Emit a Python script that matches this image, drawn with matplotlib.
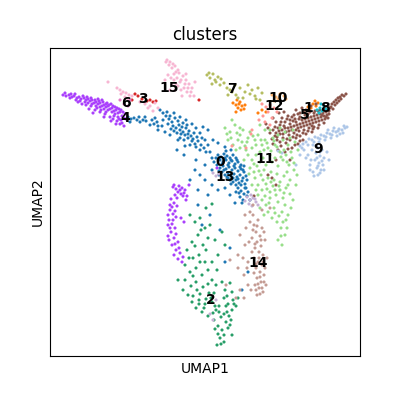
import matplotlib
matplotlib.use("Agg")
import matplotlib.pyplot as plt
import numpy as np

# scanpy-style default palette for 16 clusters
PALETTE = ['#1f77b4', '#ff7f0e', '#279e68', '#d62728', '#aa40fc', '#8c564b',
           '#e377c2', '#b5bd61', '#17becf', '#aec7e8', '#ffbb78', '#98df8a',
           '#ff9896', '#c5b0d5', '#c49c94', '#f7b6d2']

# embedding coordinates (y grows downward)
c0 = [(128,117),(131,119),(134,118),(137,120),(140,122),(143,120),(146,121),(130,122),(150,125),(154,124),(158,126),
      (160,110),(163,113),(166,116),(169,119),(172,122),(175,118),(178,121),(173,126),(176,128),(179,125),(182,127),
      (168,124),(171,129),(174,131),(177,133),(180,130),(183,132),(186,128),(189,131),(185,135),(188,138),(191,136),
      (194,133),(197,137),(192,141),(195,144),(198,141),(201,145),(204,148),(200,150),(190,145),(184,140),(180,138),
      (162,126),(158,130),(165,132),(155,118),(186,120),(192,124),(196,128),(200,133),(205,140),(208,145),(210,152),
      (212,158),(218,155),(221,157),(224,154),(227,156),(230,158),(233,155),(236,158),(220,160),(223,162),(226,160),
      (229,163),(232,161),(235,164),(238,162),(241,165),(217,165),(220,168),(223,166),(226,169),(229,167),(232,170),
      (235,168),(238,171),(241,169),(244,172),(222,172),(225,175),(228,173),(231,176),(234,174),(237,177),(240,175),
      (243,178),(230,180),(233,182),(236,180),(239,183),(242,181),(245,184),(228,178),(219,175),(246,176),(226,151),
      (231,150),(214,162),(212,170),(238,188),(241,191),(244,194),(240,197),(243,200),(247,196),(236,192),(245,188),
      (248,192),(250,200),(235,203),(230,195),(225,188),(218,190),(212,185),(205,180),(200,175),(195,170),(190,180),
      (208,195),(198,190),(177,150),(184,155),(205,165),(196,160),(213,140),(218,143),(225,147),(198,205),(210,215),
      (202,225),(220,230),(230,248),(248,272),(242,290),(225,262),(203,127),(208,130),
      (219,158),(222,164),(225,158),(228,165),(231,160),(234,166),(237,160),(240,167),(243,170),(219,171),(224,170),
      (227,177),(233,178),(238,179),(241,185),(236,185),(231,184),(247,180),(244,166),(216,158),(246,188),(239,193),
      (242,203),(167,112),(170,116),(174,113),(180,117),(183,123),(187,125),(181,134),(188,134),(193,139),(196,147),
      (202,138),(206,152),(170,135),(178,140),(185,146),(163,120),(152,120),(145,117),(139,117),(157,122)]
c1 = [(233,103),(236,105),(239,104),(242,106),(245,105),(238,108),(241,110),(236,112),(262,110),(266,112),(258,113),
      (313,104),(316,106),(311,108),(318,103),(315,101),(308,107),(240,102),(244,109),(237,100)]
c2 = [(190,215),(195,222),(200,218),(205,228),(198,235),(192,242),(203,245),(208,238),(187,250),(193,258),(199,255),
      (205,262),(185,265),(190,272),(196,268),(202,275),(208,270),(212,280),(185,280),(191,286),(197,290),(203,287),
      (209,293),(193,296),(199,300),(205,304),(211,298),(215,306),(196,308),(202,312),(208,316),(214,320),(218,326),
      (222,330),(220,338),(224,342),(218,334),(226,322),(229,316),(232,310),(228,304),(224,298),(233,300),(236,306),
      (230,325),(224,314),(219,312),(213,313),(225,290),(222,282),(216,285),(230,283),(212,262),(218,255),(215,240),
      (210,225),(222,232),(225,245),(188,295),(183,290),(178,280),(232,335),(217,345),(206,208),(212,204),
      (196,282),(200,294),(206,299),(212,302),(216,310),(221,317),(227,312),(231,320),(234,304),(238,298),(226,306),
      (219,306),(204,308),(199,304),(192,302),(228,328),(224,335),(221,344),(215,329),(227,296),(232,292),(208,284),
      (193,276),(200,262),(189,258),(206,250),(195,246),(201,230),(217,270),(214,293)]
c3 = [(135,94),(138,96),(147,101),(150,100),(153,102),(156,101),(142,99),(132,100),(199,100)]
c4 = [(63,95),(66,96),(69,95),(72,97),(74,96),(77,98),(79,97),(81,99),(84,98),(86,100),(88,99),(90,101),(92,100),
      (94,103),(96,102),(98,104),(100,103),(102,106),(104,105),(106,107),(108,106),(110,109),(112,108),(114,111),
      (116,110),(118,113),(120,112),(122,116),(124,118),(121,120),(118,117),(115,114),(112,112),(108,110),(104,109),
      (100,107),(96,106),(92,104),(88,103),(85,102),(80,101),(76,100),(70,98),(98,99),(102,100),(107,103),(111,104),
      (115,107),(119,109),(123,112),(125,114),(95,110),(100,112),(105,114),(110,117),(113,119),(117,121),(122,123),
      (124,126),(93,113),(89,109),(82,104),(126,119),(120,124),
      (65,93),(71,94),(75,94),(83,96),(87,97),(91,98),(95,100),(99,101),(103,102),(106,104),(109,105),(113,106),
      (117,108),(121,110),(101,110),(97,108),(91,106),(86,105),(78,102),(106,112),(114,116),(119,119),(116,124),
      (111,121),(104,117),
      (173,187),(176,189),(179,186),(182,188),(185,190),(178,192),(181,194),(175,195),(184,193),(187,196),(171,199),
      (174,203),(177,206),(170,210),(173,214),(176,217),(169,220),(172,224),(175,228),(171,232),(168,236),(174,238),
      (178,242),(172,245),(176,250),(180,253),(183,257),(174,255),(178,259),(181,218),(184,222),(170,205),(168,225),
      (186,200),(189,185),(217,168),(174,185),(180,190),(183,196),(177,198),(172,207),(175,211),(168,215),(173,220),
      (170,228),(176,234),(169,240),(175,244),(179,248),(182,262)]
c5 = [(270,133),(273,130),(275,136),(278,128),(280,134),(282,130),(284,126),(286,132),(288,128),(290,124),(292,130),
      (294,126),(296,122),(298,128),(300,124),(302,120),(304,126),(306,122),(308,118),(310,124),(312,120),(314,116),
      (316,122),(318,118),(320,114),(322,120),(324,116),(326,112),(328,118),(330,108),(332,104),(334,102),(336,100),
      (338,98),(340,97),(342,95),(328,106),(325,108),(320,110),(315,111),(310,112),(305,115),(300,117),(295,119),
      (290,120),(285,122),(280,125),(275,127),(272,139),(277,140),(283,138),(289,135),(294,133),(299,131),(304,130),
      (309,128),(314,127),(319,125),(324,123),(329,114),(312,132),(306,134),(300,136),(296,138),(290,140),(286,143),
      (281,146),(278,150),(285,152),(292,148),(298,144),(303,140),(290,160),(276,160),(294,115),(300,113),(306,110),
      (311,106),(316,104),(302,108),(296,110),(288,116),(282,118),(276,122),(268,128),(266,124),(273,118),(279,113),
      (284,112),(272,178),(276,185),(268,175),(254,196),
      (291,127),(293,121),(297,125),(299,119),(301,127),(303,123),(305,119),(307,125),(309,121),(311,117),(313,123),
      (315,119),(317,115),(319,121),(321,117),(323,113),(325,119),(327,115),(329,111),(331,107),(333,109),(335,105),
      (337,103),(339,101),(341,99),(344,96),(346,94),(318,128),(313,129),(308,131),(303,133),(297,135),(293,137),
      (287,139),(283,134),(279,131),(276,133),(281,122),(287,119),(292,117),(298,114),(304,112),(308,114),(314,113),
      (318,111),(322,115),(326,117),(312,126),(296,130),(289,131),(285,128),(277,137),(273,144),(280,142),(288,149),
      (295,145),(300,141)]
c6 = [(120,100),(124,104),(130,100),(128,106)]
c7 = [(207,75),(210,78),(213,74),(215,80),(218,77),(220,85),(224,83),(227,88),(232,92),(236,95),(240,88),(245,92),
      (248,85),(252,90),(255,96),(258,88),(262,93),(243,98),(235,85),(228,95),(212,84),
      (209,73),(216,82),(221,79),(230,90),(238,98),(250,94),(256,99),(260,100)]
c8 = [(320,108),(322,111),(324,106),(319,113),(326,109),(321,104),(317,110)]
c9 = [(345,128),(342,130),(339,129),(336,132),(333,131),(330,134),(327,133),(324,136),(321,135),(318,138),(315,137),
      (312,140),(309,139),(306,142),(303,144),(300,146),(337,136),(331,138),(325,140),(319,142),(313,145),(343,133),
      (340,134),(334,128),(328,130),(318,148),(322,150),(316,153),(320,156),(324,158),(315,160),(319,163),(323,165),
      (317,168),(321,170),(313,172),(318,175),(310,165),(306,158),(304,150),(327,152),(329,160),(312,150),(300,155),
      (296,165),(278,151),(282,153),
      (347,127),(344,126),(338,131),(332,135),(326,137),(320,139),(314,142),(308,145),(302,148),(316,146),(320,152),
      (317,158),(322,161),(318,166),(324,170),(320,173),(314,176),(310,170),(308,155),(311,160)]
c10 = [(272,95),(276,97),(280,94),(284,96),(278,99),(286,99),(274,101)]
c11 = [(225,128),(230,132),(235,125),(240,135),(228,140),(233,145),(238,140),(243,130),(248,138),(245,146),(250,132),
       (255,140),(252,148),(258,135),(262,145),(260,152),(265,140),(268,148),(270,130),(273,138),(275,145),(278,135),
       (280,128),(283,140),(285,132),(288,145),(290,138),(293,130),(295,142),(298,150),(248,155),(252,160),(256,155),
       (260,162),(263,158),(266,165),(270,155),(272,162),(275,158),(278,166),(280,152),(283,160),(286,155),(289,165),
       (292,158),(250,168),(254,172),(257,166),(261,175),(264,170),(268,178),(271,172),(274,180),(277,174),(280,182),
       (284,176),(287,172),(290,180),(294,170),(258,185),(262,190),(266,184),(270,192),(273,186),(276,195),(280,190),
       (283,198),(286,188),(290,194),(262,200),(266,205),(270,198),(274,208),(278,202),(282,212),(285,205),(288,215),
       (272,218),(277,222),(281,228),(286,220),(268,212),(264,215),(244,160),(246,150),(240,148),(236,150),(255,178),
       (252,185),(258,195),(293,200),(296,185),(282,245),(278,240),(285,235),(240,128),(232,120),(260,125),(265,130),
       (227,134),(231,138),(237,133),(242,142),(247,142),(253,136),(256,145),(261,140),(264,150),(267,143),(271,151),
       (274,141),(277,147),(281,157),(284,150),(287,162),(291,152),(294,163),(297,175),(288,185),(284,193),(279,186),
       (275,190),(271,182),(267,189),(263,180),(259,171),(254,164),(249,174),(256,190),(260,208),(265,196),(269,203),
       (275,213),(279,216),(283,222),(287,228),(281,236),(291,208)]
c12 = [(262,104),(266,107),(270,105),(274,108),(268,112),(263,116),(272,118),(277,112),(265,122),(270,125),(259,120),
       (252,130),(251,134),(246,148),(232,146)]
c13 = [(213,173),(216,176),(219,174),(247,197),(250,200),(253,198),(256,202),(249,204),(252,206),(255,199),(258,205),
       (245,201),(251,195),(210,314),(213,320),(216,300)]
c14 = [(250,222),(254,225),(258,220),(262,228),(256,232),(260,236),(264,232),(252,238),(257,242),(261,246),(255,248),
       (259,252),(263,255),(254,258),(258,262),(262,265),(256,268),(260,272),(264,275),(257,278),(261,282),(255,285),
       (259,288),(263,292),(257,295),(240,235),(245,245),(238,255),(248,262),(244,275),(240,290),(236,298),(248,285),
       (265,240),(267,258),(266,285),(250,212),(245,215),(253,205),(262,210),(270,208),(246,228),(253,215),(230,260),
       (226,285),(253,230),(257,226),(261,240),(255,244),(259,258),(263,262),(256,264),(260,277),(264,282),(258,284),
       (262,288),(256,290),(260,294),(254,273),(252,252),(249,242),(243,258),(247,268),(251,290),(244,298),(238,268),
       (265,268)]
c15 = [(166,62),(169,65),(172,68),(175,66),(178,70),(174,74),(171,78),(168,75),(177,78),(180,82),(183,76),(186,80),
       (189,84),(184,88),(181,90),(187,92),(190,96),(175,90),(172,85),(165,80),(192,88),(195,82),(179,73),(176,84),
       (117,88),(120,90),(123,92),(126,93),(129,95),(132,96),(121,94),(125,97),(128,99),(108,82),
       (140,102),(145,104),(150,106),(155,103),(158,108),(153,111),(148,108),
       (167,60),(170,62),(173,64),(176,72),(181,80),(185,84),(188,88),(178,86),(174,80),(191,92),(194,96),(170,90),
       (182,96),(186,74)]

clusters = [c0, c1, c2, c3, c4, c5, c6, c7, c8, c9, c10, c11, c12, c13, c14, c15]
cluster_names = [str(i) for i in range(16)]

# where scanpy put the on-data labels
label_pos = {
    "0": (220, 162), "1": (308, 108), "2": (211, 300), "3": (143, 99),
    "4": (125, 118), "5": (305, 115), "6": (126, 103), "7": (232, 89),
    "8": (325, 108), "9": (318, 149), "10": (278, 98), "11": (265, 159),
    "12": (274, 106), "13": (225, 177), "14": (258, 263), "15": (169, 88),
}

fig, ax = plt.subplots(figsize=(4, 4), dpi=100)
for name, pts, color in zip(cluster_names, clusters, PALETTE):
    pts = np.array(pts, dtype=float)
    ax.scatter(pts[:, 0], pts[:, 1], s=5, c=color, edgecolors="none")

for name in cluster_names:
    x, y = label_pos[name]
    ax.text(x, y, name, ha="center", va="center", fontsize=10, fontweight="bold", color="black")

ax.set_xlim(50, 360)
ax.set_ylim(356, 48)
ax.set_xticks([])
ax.set_yticks([])
ax.set_xlabel("UMAP1")
ax.set_ylabel("UMAP2")
ax.set_title("clusters")

fig.savefig("out.png", dpi=100)
